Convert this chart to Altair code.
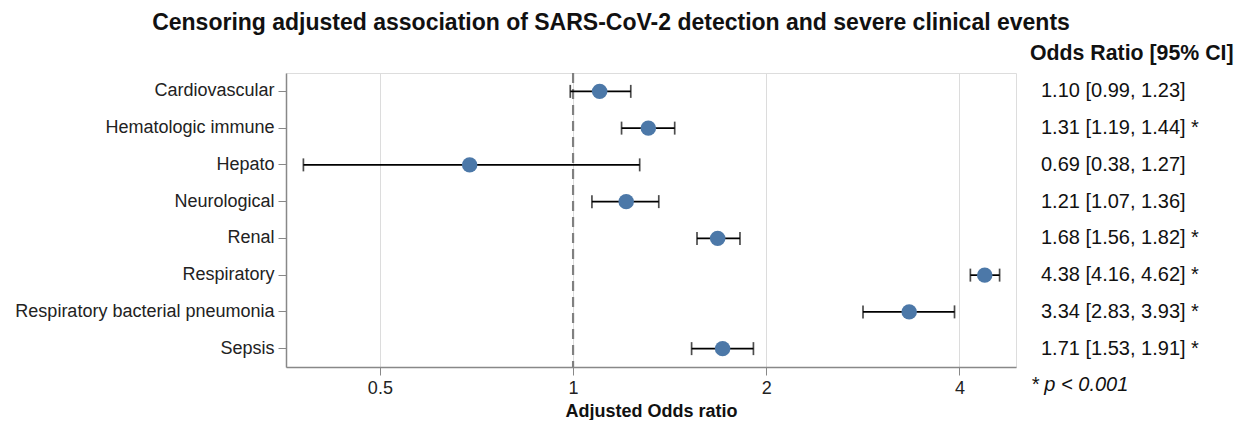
import altair as alt
import pandas as pd

outcomes = ["Cardiovascular", "Hematologic immune", "Hepato", "Neurological", "Renal",
            "Respiratory", "Respiratory bacterial pneumonia", "Sepsis"]
odds = [1.10, 1.31, 0.69, 1.21, 1.68, 4.38, 3.34, 1.71]
lower = [0.99, 1.19, 0.38, 1.07, 1.56, 4.16, 2.83, 1.53]
upper = [1.23, 1.44, 1.27, 1.36, 1.82, 4.62, 3.93, 1.91]
signif = [False, True, False, False, True, True, True, True]
tick_vals = [0.5, 1, 2, 4]

labels = [f"{o:.2f} [{l:.2f}, {u:.2f}]" + (" *" if s else "")
          for o, l, u, s in zip(odds, lower, upper, signif)]

df = pd.DataFrame({"outcome": outcomes, "odds": odds, "lower": lower,
                   "upper": upper, "label": labels})

W, H = 730, 294
FONT = "Liberation Sans"

xscale = alt.Scale(type="log", base=2, domain=[0.357, 4.9], nice=False, zero=False)
yenc = alt.Y("outcome:N", sort=outcomes, title=None,
             axis=alt.Axis(labelFontSize=18, labelColor="#222", tickColor="#888",
                           domainColor="#888", domainWidth=1.5, tickSize=8,
                           labelPadding=4, grid=False, labelFont=FONT, labelLimit=0))

base = alt.Chart(df)

ref = alt.Chart(pd.DataFrame({"v": [1]})).mark_rule(
    color="#808080", strokeDash=[10, 6], strokeWidth=2.2
).encode(x=alt.X("v:Q", scale=xscale))

rule = base.mark_rule(color="black", strokeWidth=1.7).encode(
    x=alt.X("lower:Q", scale=xscale,
            axis=alt.Axis(values=tick_vals, format="~g", title="Adjusted Odds ratio",
                          titleFontSize=18, titleFont=FONT, titleFontWeight="bold",
                          titleColor="#111", labelFontSize=18, labelFont=FONT,
                          labelColor="#222", gridColor="#dcdcdc", grid=True,
                          tickColor="#888", domainColor="#888", domainWidth=1.5,
                          tickSize=8, labelPadding=4, titlePadding=5)),
    x2="upper:Q", y=yenc)

cap_lo = base.mark_tick(color="black", thickness=1.7, size=13).encode(
    x=alt.X("lower:Q", scale=xscale), y=yenc)
cap_hi = base.mark_tick(color="black", thickness=1.7, size=13).encode(
    x=alt.X("upper:Q", scale=xscale), y=yenc)

pts = base.mark_circle(color="#4c78a8", opacity=1, size=240).encode(
    x=alt.X("odds:Q", scale=xscale), y=yenc)

txt = base.mark_text(align="left", baseline="middle", fontSize=20, font=FONT,
                     color="#111").encode(
    x=alt.value(W + 25), y=yenc, text="label:N")

header = alt.Chart(pd.DataFrame({"t": ["Odds Ratio [95% CI]"]})).mark_text(
    align="left", baseline="middle", fontSize=21.3, fontWeight="bold", font=FONT,
    color="#111").encode(x=alt.value(W + 14), y=alt.value(-19), text="t:N")

foot = alt.Chart(pd.DataFrame({"t": ["* p < 0.001"]})).mark_text(
    align="left", baseline="middle", fontSize=20, fontStyle="italic", font=FONT,
    color="#111").encode(x=alt.value(W + 15), y=alt.value(H + 18), text="t:N")

chart = alt.layer(ref, rule, cap_lo, cap_hi, pts, txt, header, foot).properties(
    width=W, height=H,
    padding={"left": 6, "top": 4, "right": 0, "bottom": 0},
    title=alt.TitleParams("Censoring adjusted association of SARS-CoV-2 detection and severe clinical events",
                          fontSize=23, font=FONT, fontWeight="bold", color="#111",
                          anchor="middle", offset=8, dx=-40)
).configure_view(stroke=None).configure(background="white")

chart.save("out.html", embed_options={"renderer": "svg", "actions": False})
